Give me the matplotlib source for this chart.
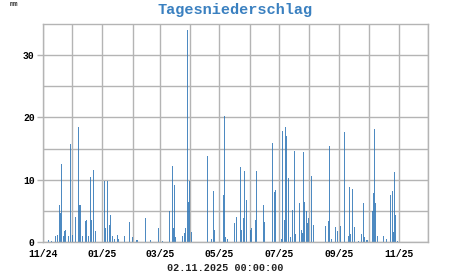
import matplotlib
matplotlib.use("Agg")
import matplotlib.pyplot as plt
import matplotlib.dates as mdates
import numpy as np
import pandas as pd

# Daily rainfall (mm), days without rain omitted
days = [
    "2024-11-02", "2024-11-07", "2024-11-10", "2024-11-14", "2024-11-16",
    "2024-11-18", "2024-11-19", "2024-11-20", "2024-11-22", "2024-11-23",
    "2024-11-24", "2024-11-27", "2024-11-29", "2024-12-01", "2024-12-04",
    "2024-12-07", "2024-12-08", "2024-12-09", "2024-12-10", "2024-12-12",
    "2024-12-15", "2024-12-16", "2024-12-18", "2024-12-20", "2024-12-21",
    "2024-12-23", "2024-12-25", "2025-01-03", "2025-01-04", "2025-01-06",
    "2025-01-08", "2025-01-09", "2025-01-11", "2025-01-13", "2025-01-16",
    "2025-01-17", "2025-01-24", "2025-01-29", "2025-02-01", "2025-02-05",
    "2025-02-06", "2025-02-14", "2025-02-19", "2025-02-27", "2025-02-28",
    "2025-03-04", "2025-03-11", "2025-03-14", "2025-03-15", "2025-03-16",
    "2025-03-17", "2025-03-24", "2025-03-26", "2025-03-27", "2025-03-29",
    "2025-03-30", "2025-03-31", "2025-04-02", "2025-04-19", "2025-04-23",
    "2025-04-25", "2025-04-26", "2025-05-05", "2025-05-06", "2025-05-07",
    "2025-05-09", "2025-05-16", "2025-05-17", "2025-05-19", "2025-05-23",
    "2025-05-24", "2025-05-26", "2025-05-27", "2025-05-29", "2025-06-02",
    "2025-06-03", "2025-06-07", "2025-06-08", "2025-06-15", "2025-06-16",
    "2025-06-24", "2025-06-27", "2025-06-28", "2025-07-04", "2025-07-05",
    "2025-07-07", "2025-07-08", "2025-07-09", "2025-07-11", "2025-07-13",
    "2025-07-15", "2025-07-17", "2025-07-18", "2025-07-22", "2025-07-24",
    "2025-07-25", "2025-07-26", "2025-07-27", "2025-07-29", "2025-07-30",
    "2025-07-31", "2025-08-03", "2025-08-04", "2025-08-06", "2025-08-18",
    "2025-08-21", "2025-08-22", "2025-08-24", "2025-08-28", "2025-08-30",
    "2025-09-02", "2025-09-06", "2025-09-10", "2025-09-11", "2025-09-12",
    "2025-09-13", "2025-09-15", "2025-09-17", "2025-09-21", "2025-09-24",
    "2025-09-26", "2025-09-27", "2025-09-29", "2025-09-30", "2025-10-05",
    "2025-10-06", "2025-10-07", "2025-10-08", "2025-10-10", "2025-10-16",
    "2025-10-19", "2025-10-24", "2025-10-26", "2025-10-27", "2025-10-28",
    "2025-10-29", "2025-10-31",
]
rain = [
    0.2, 0.3, 0.2, 0.9, 1.2,
    5.9, 4.6, 12.5, 1.0, 1.8,
    1.9, 0.9, 15.8, 1.2, 4.0,
    18.4, 6.0, 6.0, 4.0, 0.9,
    3.3, 3.5, 0.9, 10.5, 3.5,
    11.6, 1.8, 9.8, 2.2, 9.8,
    2.8, 4.4, 1.0, 0.5, 1.2,
    0.5, 1.0, 3.2, 0.8, 0.3,
    0.3, 3.9, 0.3, 10.0, 2.2,
    0.2, 4.9, 12.2, 2.2, 9.1,
    0.8, 1.0, 1.5, 2.2, 34.0,
    6.5, 9.8, 1.6, 13.8, 0.5,
    8.2, 2.0, 7.5, 20.2, 0.8,
    0.5, 3.0, 0.8, 4.0, 12.0,
    2.0, 3.8, 11.4, 6.8, 2.0,
    2.2, 3.5, 11.4, 5.9, 3.2,
    15.9, 8.0, 8.3, 0.5, 17.8,
    3.5, 18.4, 17.0, 10.2, 0.8,
    5.1, 14.6, 1.3, 6.2, 1.9,
    1.4, 14.4, 6.5, 5.0, 3.0,
    3.9, 10.6, 5.0, 2.8, 2.5,
    3.4, 15.4, 0.5, 2.4, 1.8,
    2.5, 17.6, 1.0, 8.8, 1.3,
    1.3, 8.5, 2.4, 0.2, 1.3,
    6.2, 0.8, 0.3, 0.3, 5.0,
    7.8, 18.2, 6.3, 1.0, 0.9,
    0.5, 7.5, 8.2, 1.6, 11.2,
    4.3, 0.2,
]
title = "Tagesniederschlag"
unit = "mm"
stamp = "02.11.2025 00:00:00"

dates = pd.to_datetime(days)

font = "Liberation Mono"
grid_col = "#b4b4b4"
bar_col = "#2f76b6"

fig = plt.figure(figsize=(4.51, 2.75), dpi=100)
ax = fig.add_axes([43 / 451, 33 / 275, 385 / 451, 218 / 275])

ax.bar(dates, rain, width=1.0, color=bar_col, alpha=0.85, linewidth=0)

ax.set_xlim(pd.Timestamp("2024-11-01"), pd.Timestamp("2025-12-01"))
ax.set_ylim(0, 35)

ax.xaxis.set_major_locator(mdates.MonthLocator(bymonth=[1, 3, 5, 7, 9, 11]))
ax.xaxis.set_minor_locator(mdates.MonthLocator())
ax.xaxis.set_major_formatter(mdates.DateFormatter("%m/%y"))
ax.set_yticks([0, 10, 20, 30])
ax.set_yticks([5, 15, 25], minor=True)

ax.grid(True, which="both", color=grid_col, linewidth=1.0)
ax.set_axisbelow(True)
for s in ax.spines.values():
    s.set_color(grid_col)
    s.set_linewidth(1.0)

ax.tick_params(axis="both", which="both", length=0)
ax.tick_params(axis="x", which="major", pad=5)
ax.tick_params(axis="y", which="major", length=4, color=grid_col, width=1.0, pad=2)
for lab in ax.get_xticklabels() + ax.get_yticklabels():
    lab.set_fontfamily(font)
    lab.set_fontweight("bold")
    lab.set_fontsize(7)

fig.text(235.5 / 451, 1 - 10 / 275, title, ha="center", va="center",
         fontfamily=font, fontweight="bold", fontsize=11, color="#3a80c0")
fig.text(10 / 451, 1 - 5 / 275, unit, ha="left", va="center",
         fontfamily=font, fontweight="bold", fontsize=5, color="#333333")
fig.text(225 / 451, 1 - 268 / 275, stamp, ha="center", va="center",
         fontfamily=font, fontweight="bold", fontsize=7.3, color="#222222")

fig.savefig("out.png", dpi=100)
